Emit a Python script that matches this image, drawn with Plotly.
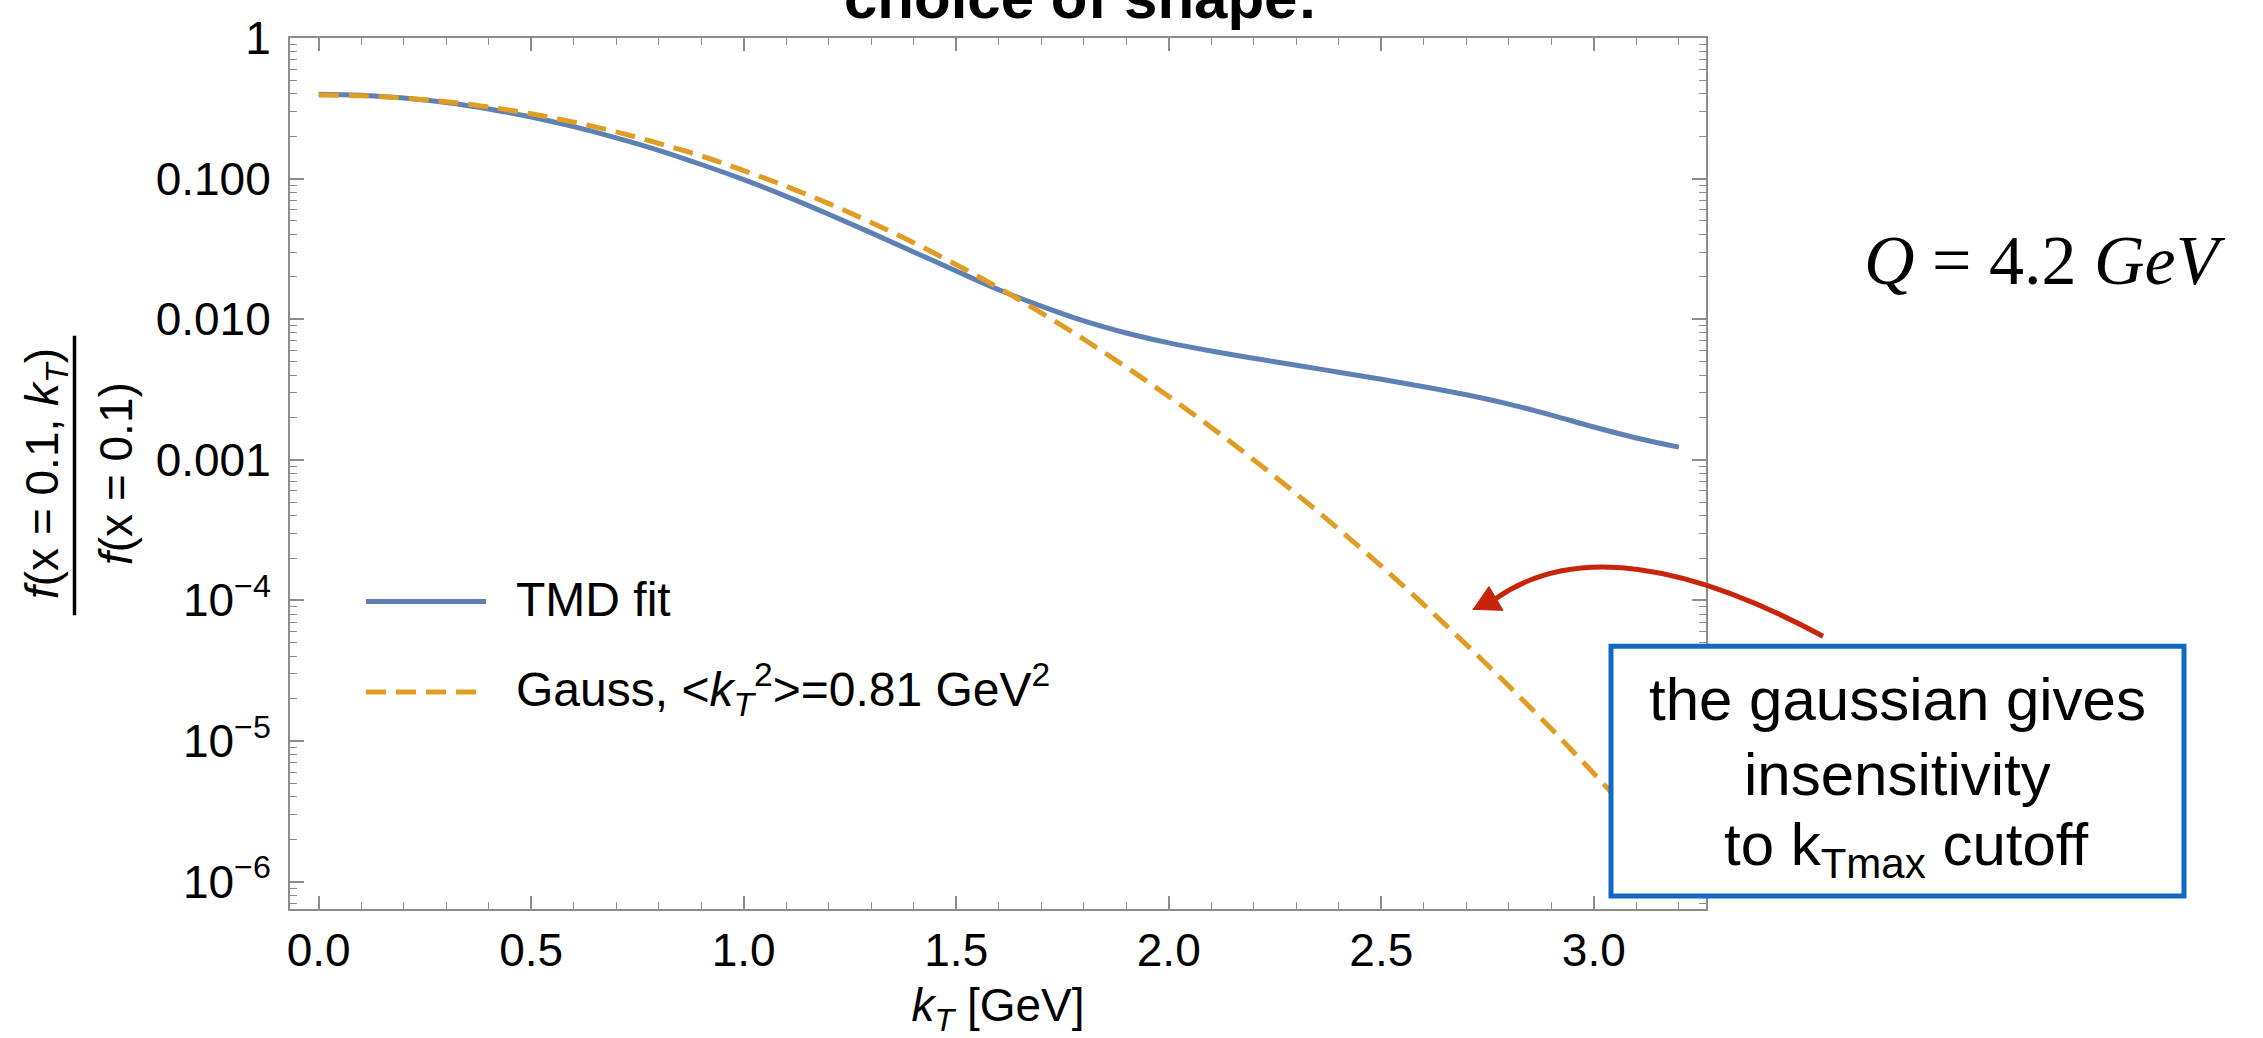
import plotly.graph_objects as go

# transverse momentum grid [GeV]
kt = [0.0, 0.1, 0.2, 0.3, 0.4, 0.5, 0.6, 0.7, 0.8, 0.9, 1.0, 1.1, 1.2, 1.3, 1.4, 1.5,
      1.6, 1.7, 1.8, 1.9, 2.0, 2.1, 2.2, 2.3, 2.4, 2.5, 2.6, 2.7, 2.8, 2.9, 3.0, 3.1, 3.2]

# f(x=0.1, kT) / f(x=0.1) from the TMD fit
tmd_fit = [0.398, 0.392, 0.375, 0.348, 0.313, 0.274, 0.234, 0.195, 0.159, 0.126, 0.0984,
           0.0748, 0.0558, 0.0411, 0.0301, 0.0220, 0.0162, 0.0124, 0.00973, 0.00798,
           0.00679, 0.00594, 0.00527, 0.00470, 0.00420, 0.00374, 0.00331, 0.00290,
           0.00249, 0.00208, 0.00171, 0.00143, 0.00123]

# Gaussian shape with <kT^2> = 0.81 GeV^2
gauss = [0.393, 0.388, 0.374, 0.352, 0.323, 0.289, 0.252, 0.215, 0.178, 0.145, 0.114,
         0.0882, 0.0664, 0.0488, 0.0350, 0.0244, 0.0167, 0.0111, 0.00720, 0.00456,
         0.00282, 0.00170, 0.000999, 0.000573, 0.000321, 0.000175, 9.33e-5, 4.85e-5,
         2.46e-5, 1.22e-5, 5.87e-6, 2.77e-6, 1.27e-6]

y_tickvals = [1, 0.1, 0.01, 0.001, 1e-4, 1e-5, 1e-6]
y_ticktext = ["1", "0.100", "0.010", "0.001", "10<sup>\u22124</sup>",
              "10<sup>\u22125</sup>", "10<sup>\u22126</sup>"]

W, H = 2263, 1038
ML, MR, MT, MB = 290, 557, 36, 127
PW, PH = W - ML - MR, H - MT - MB

BLUE = "#5E81B5"
ORANGE = "#E19C24"
FRAME = "#8c8c8c"
FONT = "Liberation Sans"


def px(x):
    return (x - ML) / PW


def py(y):
    return (H - MB - y) / PH


minor_y = [m * 10.0 ** e for e in range(-7, 0) for m in range(2, 10)]

fig = go.Figure()
fig.add_trace(go.Scatter(x=kt, y=tmd_fit, mode="lines", name="TMD fit",
                         line=dict(color=BLUE, width=5, shape="spline")))
fig.add_trace(go.Scatter(x=kt, y=gauss, mode="lines", name="Gauss",
                         line=dict(color=ORANGE, width=5, dash="20px,10px", shape="spline")))

axis_common = dict(showline=True, linecolor=FRAME, linewidth=2, mirror="allticks",
                   ticks="inside", tickcolor=FRAME, tickwidth=1.6, showgrid=False,
                   zeroline=False, tickfont=dict(family=FONT, size=46, color="black"))

fig.update_xaxes(range=[-0.0675, 3.264], tick0=0, dtick=0.5, tickformat=".1f", ticklen=13,
                 minor=dict(dtick=0.1, tick0=0, ticks="inside", ticklen=7,
                            tickcolor=FRAME, tickwidth=1.4, showgrid=False),
                 title=dict(text="<i>k</i><sub><i>T</i></sub> [GeV]",
                            font=dict(family=FONT, size=46, color="black"), standoff=18),
                 **axis_common)
fig.update_yaxes(type="log", range=[-6.195, 0], tickmode="array", tickvals=y_tickvals,
                 ticktext=y_ticktext, ticklen=14, ticklabelstandoff=8,
                 minor=dict(tickvals=minor_y, ticks="inside", ticklen=7,
                            tickcolor=FRAME, tickwidth=1.4, showgrid=False),
                 **axis_common)

shapes = []
ann = []

# legend samples
shapes.append(dict(type="line", xref="paper", yref="paper", x0=px(366), x1=px(486),
                   y0=py(602), y1=py(602), line=dict(color=BLUE, width=5)))
shapes.append(dict(type="line", xref="paper", yref="paper", x0=px(366), x1=px(486),
                   y0=py(693), y1=py(693), line=dict(color=ORANGE, width=5, dash="20px,10px")))
ann.append(dict(text="TMD fit", x=px(514), y=py(600), xanchor="left", yanchor="middle"))
ann.append(dict(text="Gauss, &lt;<i>k</i><sub><i>T</i></sub><sup>2</sup>&gt;=0.81 GeV<sup>2</sup>",
                x=px(514), y=py(690), xanchor="left", yanchor="middle"))
for a in ann:
    a.update(xref="paper", yref="paper", showarrow=False,
             font=dict(family=FONT, size=48, color="black"))

# y-axis label as a stacked fraction
ann.append(dict(text="<i>f</i>(x = 0.1, <i>k</i><sub><i>T</i></sub>)", textangle=-90,
                x=px(46), y=py(474), xref="paper", yref="paper", showarrow=False,
                xanchor="center", yanchor="middle",
                font=dict(family=FONT, size=46, color="black")))
ann.append(dict(text="<i>f</i>(x = 0.1)", textangle=-90,
                x=px(116), y=py(474), xref="paper", yref="paper", showarrow=False,
                xanchor="center", yanchor="middle",
                font=dict(family=FONT, size=46, color="black")))
shapes.append(dict(type="line", xref="paper", yref="paper", x0=px(74.5), x1=px(74.5),
                   y0=py(335), y1=py(616), line=dict(color="black", width=3.5)))

# slide title
ann.append(dict(text="<b>choice of shape:</b>", x=px(1080), y=py(31), xref="paper",
                yref="paper", showarrow=False, xanchor="center", yanchor="bottom",
                font=dict(family=FONT, size=60, color="black")))

# scale label
ann.append(dict(text="<i>Q</i> = 4.2 <i>GeV</i>", x=px(2045), y=py(260), xref="paper",
                yref="paper", showarrow=False, xanchor="center", yanchor="middle",
                font=dict(family="Liberation Serif", size=70, color="black")))

# callout box
shapes.append(dict(type="rect", xref="paper", yref="paper", x0=px(1611), x1=px(2184),
                   y0=py(898), y1=py(647), fillcolor="white",
                   line=dict(color="#1368C4", width=5), layer="above"))
box_lines = [("the gaussian gives", 1897, 701),
             ("insensitivity", 1897, 776),
             ("to k<sub>Tmax</sub> cutoff", 1906, 851)]
for txt, bx, by in box_lines:
    ann.append(dict(text=txt, x=px(bx), y=py(by), xref="paper", yref="paper",
                    showarrow=False, xanchor="center", yanchor="middle",
                    font=dict(family=FONT, size=60, color="black")))

# curved red arrow pointing at the Gaussian tail
RED = "#C8240C"
shapes.append(dict(type="path", xref="paper", yref="paper",
                   path=f"M {px(1823)},{py(637)} Q {px(1607.7)},{py(520.6)} {px(1496)},{py(599)}",
                   line=dict(color=RED, width=5)))
shapes.append(dict(type="path", xref="paper", yref="paper",
                   path=(f"M {px(1473)},{py(610)} L {px(1489)},{py(587)} "
                         f"L {px(1503)},{py(611)} Z"),
                   fillcolor=RED, line=dict(color=RED, width=1)))

fig.update_layout(width=W, height=H, margin=dict(l=ML, r=MR, t=MT, b=MB),
                  plot_bgcolor="white", paper_bgcolor="white", showlegend=False,
                  shapes=shapes, annotations=ann)

fig.write_html("out.html")
